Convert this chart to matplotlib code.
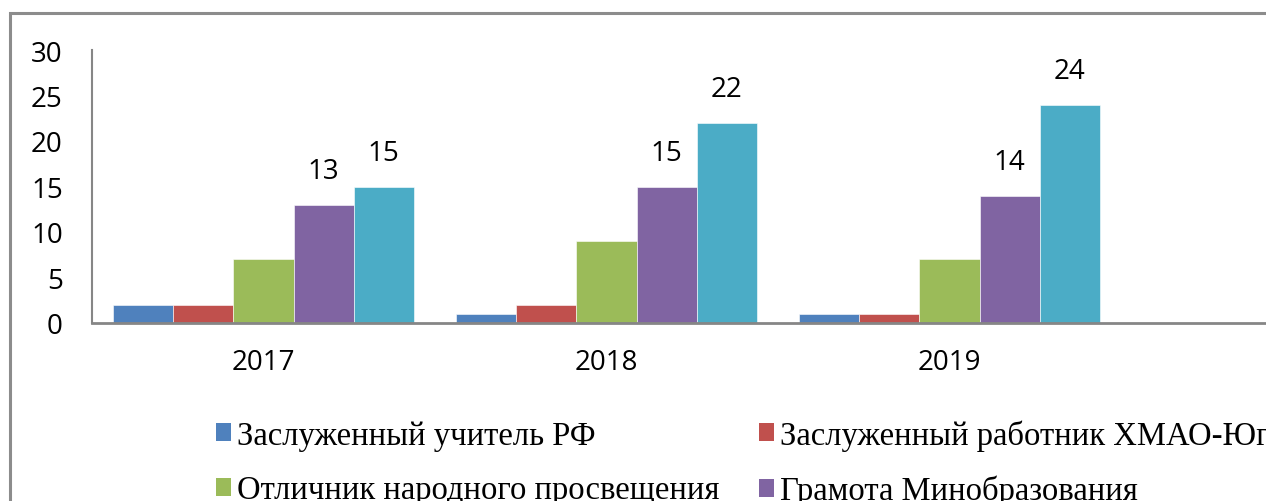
import matplotlib.pyplot as plt
import numpy as np
from matplotlib.patches import Patch, Rectangle

# Data
years = ["2017", "2018", "2019", ""]
teacherRF = [2, 1, 1, 0]
workerHMAO = [2, 2, 1, 0]
excellence = [7, 9, 7, 0]
ministryCert = [13, 15, 14, 0]
lastSeries = [15, 22, 24, 0]

seriesNames = ["Заслуженный учитель РФ",
               "Заслуженный работник ХМАО-Югры",
               "Отличник народного просвещения",
               "Грамота Минобразования",
               "Почетная грамота Думы"]
seriesColors = ["#4F81BD", "#C0504D", "#9BBB59", "#8064A2", "#4BACC6"]
labelledSeries = [3, 4]

allSeries = [teacherRF, workerHMAO, excellence, ministryCert, lastSeries]

fig = plt.figure(figsize=(12.66, 5.02), dpi=100)

# Outer chart frame (cut off at the right and bottom like the reference)
frame = Rectangle((10 / 1266, -0.2), 1.5, 1 - 14 / 502 + 0.2, transform=fig.transFigure,
                  fill=False, edgecolor="#8c8c8c", linewidth=2.2)
fig.patches.append(frame)

ax = fig.add_axes([92 / 1266, 1 - 324 / 502, 1372 / 1266, 273 / 502])

barWidth = 0.175
positions = np.arange(len(years))
for i, values in enumerate(allSeries):
    offset = (i - 2) * barWidth
    bars = ax.bar(positions + offset, values, barWidth, color=seriesColors[i],
                  edgecolor="white", linewidth=0.4, label=seriesNames[i])
    if i in labelledSeries:
        for x, v in zip(positions[:3] + offset, values[:3]):
            ax.annotate(str(v), (x, v), xytext=(0, 24), textcoords="offset points",
                        ha="center", va="center", fontsize=20, family="Open Sans")

ax.set_xlim(-0.5, 3.5)
ax.set_ylim(0, 30)
ax.set_yticks(range(0, 31, 5))
ax.set_xticks(positions)
ax.set_xticklabels(years)
for lbl in ax.get_xticklabels() + ax.get_yticklabels():
    lbl.set_family("Open Sans")
    lbl.set_fontsize(20)
ax.tick_params(axis="y", length=0, pad=21)
ax.tick_params(axis="x", length=0, pad=18)

for side in ["top", "right"]:
    ax.spines[side].set_visible(False)
ax.spines["left"].set_color("#868686")
ax.spines["bottom"].set_color("#868686")
ax.spines["left"].set_linewidth(1.5)
ax.spines["bottom"].set_linewidth(2)

# Legend in row order: blue, red / green, purple / cyan
order = [0, 2, 4, 1, 3]
handles = [Patch(facecolor=seriesColors[k], edgecolor="none") for k in order]
labels = [seriesNames[k] for k in order]
fig.legend(handles, labels, ncol=2, loc="upper left", bbox_to_anchor=(216 / 1266, 1 - 420 / 502),
           frameon=False, prop={"family": "Liberation Serif", "size": 23.5},
           handlelength=0.45, handleheight=0.45, handletextpad=0.2, columnspacing=1.2,
           labelspacing=0.75, borderpad=0, borderaxespad=0)

fig.savefig("out.png", dpi=100)
